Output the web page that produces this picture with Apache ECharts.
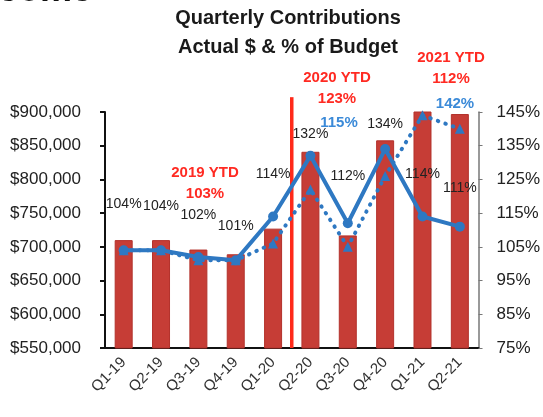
<!DOCTYPE html>
<html>
<head>
<meta charset="utf-8">
<script src="https://cdn.jsdelivr.net/npm/echarts@6/dist/echarts.min.js"></script>
<style>
  html, body { margin: 0; background: #fff; }
  #chart { width: 543px; height: 417px; }
</style>
</head>
<body>
<div id="chart"></div>
<script>
// quarterly contributions
const quarters = ['Q1-19', 'Q2-19', 'Q3-19', 'Q4-19', 'Q1-20', 'Q2-20', 'Q3-20', 'Q4-20', 'Q1-21', 'Q2-21']
const actual = [710000, 710000, 696000, 689000, 727000, 841000, 717000, 858000, 905000, 897000]
const pctOfBudget = [104, 104, 102, 101, 114, 132, 112, 134, 114, 111]
const ytdPct = [104, 104, 101, 101, 106, 122, 105, 126, 144, 140]
const ytdNotes = [
  { name: '2019 YTD', pct: '103%' },
  { name: '2020 YTD', pct: '123%' },
  { name: '2021 YTD', pct: '112%' },
]
const blueNotes = ['115%', '142%']

// right axis runs 75%..145%, ticks every 10 -> shift so min is 0
const pctBase = 75

const font = 'Liberation Sans'
const blue = '#2e78c2'

let chart = echarts.init(document.getElementById('chart'))

// label distance above each point of the solid line
const labelGap = [34, 32, 30, 22, 30, 10, 35, 13, 30, 26]

let option = {
  animation: false,
  title: {
    text: 'Quarterly Contributions\nActual $ & % of Budget',
    left: 288,
    top: 4,
    padding: 0,
    textAlign: 'center',
    textStyle: { fontFamily: font, fontSize: 20, fontWeight: 'bold', color: '#1a1a1a', lineHeight: 29 },
  },
  grid: { left: 105, right: 63, top: 112, bottom: 69 },
  xAxis: {
    type: 'category',
    data: quarters,
    axisLine: { lineStyle: { color: '#111', width: 2 } },
    axisTick: { alignWithLabel: false, length: 5, lineStyle: { color: '#111', width: 2 } },
    axisLabel: { rotate: 45, margin: 12, fontFamily: font, fontSize: 15, color: '#333' },
  },
  yAxis: [
    {
      type: 'value',
      min: 550000,
      max: 900000,
      interval: 50000,
      splitLine: { show: false },
      axisLine: { show: true, lineStyle: { color: '#111', width: 2 } },
      axisTick: { show: true, length: 5, lineStyle: { color: '#111', width: 2 } },
      axisLabel: {
        margin: 24,
        fontFamily: font,
        fontSize: 17,
        color: '#222',
        formatter: (v) => '$' + String(v).replace(/\B(?=(\d{3})+(?!\d))/g, ','),
      },
    },
    {
      type: 'value',
      position: 'right',
      min: 0,
      max: 70,
      interval: 10,
      splitLine: { show: false },
      axisLine: { show: true, lineStyle: { color: '#777', width: 1.5 } },
      axisTick: { show: true, length: 4, lineStyle: { color: '#777' } },
      axisLabel: {
        margin: 18,
        fontFamily: font,
        fontSize: 17,
        color: '#222',
        formatter: (v) => (v + pctBase) + '%',
      },
    },
  ],
  series: [
    {
      name: 'Actual',
      type: 'bar',
      data: actual,
      barWidth: 18,
      itemStyle: { color: '#c63d36', borderColor: '#b3322c', borderWidth: 1 },
      z: 1,
    },
    {
      name: 'YTD %',
      type: 'line',
      yAxisIndex: 1,
      data: ytdPct.map((v) => v - pctBase),
      symbol: 'triangle',
      symbolSize: 10,
      itemStyle: { color: blue },
      lineStyle: { color: blue, width: 4, type: [0.5, 7.5], cap: 'round' },
      z: 3,
    },
    {
      name: '% of Budget',
      type: 'line',
      yAxisIndex: 1,
      data: pctOfBudget.map((v, i) => ({
        value: v - pctBase,
        label: { distance: labelGap[i] },
      })),
      symbol: 'circle',
      symbolSize: 10,
      itemStyle: { color: blue },
      lineStyle: { color: blue, width: 4 },
      label: {
        show: true,
        position: 'top',
        fontFamily: font,
        fontSize: 14,
        color: '#222',
        formatter: (p) => pctOfBudget[p.dataIndex] + '%',
      },
      z: 4,
    },
  ],
}

chart.setOption(option)

// divider between Q1-20 and Q2-20, placed through the axes
const xa = chart.convertToPixel({ xAxisIndex: 0 }, 'Q1-20')
const xb = chart.convertToPixel({ xAxisIndex: 0 }, 'Q2-20')
const yTop = chart.convertToPixel({ yAxisIndex: 0 }, 922000)
const yBot = chart.convertToPixel({ yAxisIndex: 0 }, 550000)
const xDiv = (xa + xb) / 2

const redText = { fontFamily: font, fontSize: 15, fontWeight: 'bold', fill: '#ff2a22', textAlign: 'center', textVerticalAlign: 'middle', lineHeight: 21 }
const blueText = { fontFamily: font, fontSize: 15, fontWeight: 'bold', fill: '#3b8ad8', textAlign: 'center', textVerticalAlign: 'middle' }
const notePos = [[205, 183], [337, 88], [451, 68]]

chart.setOption({
  graphic: [
    {
      type: 'text', left: -2, top: -27,
      style: { text: 'come', fontFamily: font, fontSize: 36, fontWeight: 'bold', fill: '#111' },
    },
    {
      type: 'line', z: 2,
      shape: { x1: xDiv, y1: yTop, x2: xDiv, y2: yBot },
      style: { stroke: '#ff2a1a', lineWidth: 3.5 },
    },
    ...ytdNotes.map((n, i) => ({
      type: 'text', x: notePos[i][0], y: notePos[i][1], z: 10,
      style: Object.assign({ text: n.name + '\n' + n.pct }, redText),
    })),
    { type: 'text', x: 339, y: 123, z: 10, style: Object.assign({ text: blueNotes[0] }, blueText) },
    { type: 'text', x: 455, y: 104, z: 10, style: Object.assign({ text: blueNotes[1] }, blueText) },
  ],
})
</script>
</body>
</html>
